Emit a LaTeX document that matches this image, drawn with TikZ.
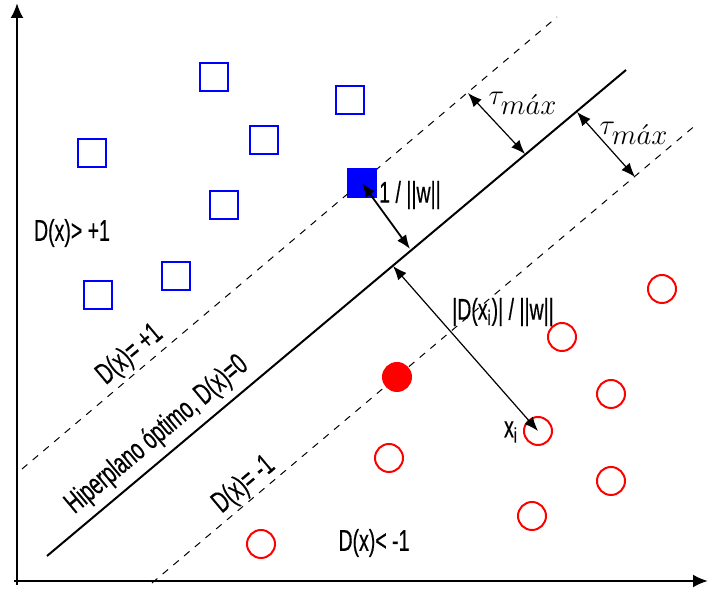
\documentclass[tikz,border=0pt]{standalone}
\usepackage{fontspec}
\newfontfamily\narrowsf{Liberation Sans}[FakeStretch=0.65,FakeBold=0.4]
\usetikzlibrary{arrows.meta}

\begin{document}
\begin{tikzpicture}[x=0.5pt,y=-0.5pt,
  possq/.style={draw=blue,line width=1pt,minimum size=14pt,inner sep=0pt},
  negcirc/.style={circle,draw=red,line width=1pt,minimum size=14pt,inner sep=0pt},
  lbl/.style={font=\narrowsf\fontsize{15}{18}\selectfont,inner sep=0pt},
  tlbl/.style={font=\fontsize{13.5}{16}\selectfont,inner sep=0pt},
  marg/.style={dash pattern=on 3.5pt off 3.5pt,line width=0.5pt},
  dist/.style={{Latex[length=7pt,width=5.5pt]}-{Latex[length=7pt,width=5.5pt]},line width=0.6pt}]

\useasboundingbox (0,0) rectangle (709,592);

% axes
\coordinate (ybot) at (17,585);
\coordinate (ytop) at (17,3);
\coordinate (xbeg) at (14,581);
\coordinate (xend) at (708,581);
\draw [line width=1.2pt,-{Latex[length=7.5pt,width=6.5pt]}] (ybot) -- (ytop);
\draw [line width=1.2pt,-{Latex[length=7.5pt,width=6.5pt]}] (xbeg) -- (xend);

% hyperplane and margins
\coordinate (h0) at (47,556);
\coordinate (h1) at (626,70);
\coordinate (p0) at (22,469);
\coordinate (p1) at (557,17);
\coordinate (n0) at (152,583);
\coordinate (n1) at (697,124);
\draw [line width=1pt] (h0) -- (h1);
\draw [marg] (p0) -- (p1);
\draw [marg] (n0) -- (n1);

% class +1
\node [possq] (s1) at (214,77) {};
\node [possq] (s2) at (350,100) {};
\node [possq] (s3) at (264,140) {};
\node [possq] (s4) at (92,153) {};
\node [possq] (s5) at (224,205) {};
\node [possq] (s6) at (176,276) {};
\node [possq] (s7) at (98,295) {};
\node [possq,fill=blue] (sv) at (362,183) {};

% class -1
\node [negcirc] (c1) at (662,289) {};
\node [negcirc] (c2) at (562,337) {};
\node [negcirc] (c3) at (611,394) {};
\node [negcirc] (xi) at (538,431) {};
\node [negcirc] (c4) at (389,458) {};
\node [negcirc] (c5) at (611,481) {};
\node [negcirc] (c6) at (532,516) {};
\node [negcirc] (c7) at (261,544) {};
\node [negcirc,fill=red] (cv) at (397,377) {};

% distances
\coordinate (w1) at (410,249);
\coordinate (d1) at (393,266);
\coordinate (t1) at (468,93);
\coordinate (t2) at (525,154);
\coordinate (t3) at (577,112);
\coordinate (t4) at (635,177);
\draw [dist,line width=0.9pt] (sv.center) -- (w1);
\draw [dist] (d1) -- (xi.center);
\draw [dist] (t1) -- (t2);
\draw [dist] (t3) -- (t4);

% labels
\node [lbl] (gtp) at (72,233) {D(x)> +1};
\node [lbl] (ltn) at (374,543) {D(x)< -1};
\node [lbl] (wn) at (410,195) {1 / ||w||};
\node [lbl] (dn) at (503,312) {|D(x\textsubscript{i})| / ||w||};
\node [lbl] (xn) at (511,432) {x\textsubscript{i}};
\node [lbl,rotate=40] (pl) at (130,355) {D(x)= +1};
\node [lbl,rotate=40] (hl) at (157,435) {Hiperplano óptimo, D(x)=0};
\node [lbl,rotate=40] (nl) at (244,485) {D(x)= -1};
\node [tlbl] (ta) at (523,103) {$\tau_{\textstyle m\acute{a}x}$};
\node [tlbl] (tb) at (634,133) {$\tau_{\textstyle m\acute{a}x}$};

\end{tikzpicture}
\end{document}
